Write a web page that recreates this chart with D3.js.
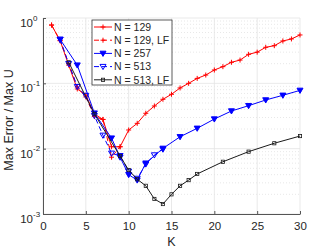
<!DOCTYPE html>
<html lang="en">
<head>
	<meta charset="utf-8">
	<title>Max Error vs K</title>
	<script src="https://d3js.org/d3.v7.min.js"></script>
	<style type="text/css">
		body { margin: 0; background: #fff; }
		text { font-family: "Liberation Sans", Arial, sans-serif; fill: #262626; }
	</style>
</head>
<body>
<script type="text/javascript">

	// Data
	var k129 = d3.range(1, 31);
	var v129 = [0.78, 0.45, 0.19, 0.082, 0.066, 0.034, 0.028, 0.0107, 0.0107, 0.0193,
				0.0244, 0.0348, 0.045, 0.057, 0.068, 0.085, 0.1, 0.119, 0.134, 0.16,
				0.18, 0.21, 0.227, 0.278, 0.3, 0.356, 0.377, 0.445, 0.478, 0.55];

	var k129lf = [1, 2, 3, 4, 5, 6, 7, 8, 9];
	var v129lf = [0.78, 0.45, 0.2, 0.088, 0.062, 0.031, 0.028, 0.0074, 0.0107];

	var k257 = [2, 4, 6, 8, 9, 10, 11, 12, 14, 16, 18, 20, 22, 24, 26, 28, 30];
	var v257 = [0.47, 0.19, 0.035, 0.0145, 0.0074, 0.004, 0.0033, 0.006, 0.0101, 0.0152,
				0.0205, 0.0284, 0.0377, 0.0455, 0.0556, 0.0656, 0.078];

	var k513 = [2, 3, 4, 5, 6, 7, 8, 9, 10, 11, 12, 13, 14];
	var v513 = [0.47, 0.2, 0.089, 0.065, 0.032, 0.016, 0.0085, 0.0078, 0.0045, 0.0035,
				0.0058, 0.008, 0.0098];

	var k513lf = [3, 6, 9, 10, 11, 12, 13, 14, 15, 16, 17, 18, 21, 24, 27, 30];
	var v513lf = [0.21, 0.034, 0.0077, 0.0047, 0.0034, 0.0027, 0.0017, 0.00142, 0.002, 0.0027,
				  0.0033, 0.0041, 0.0063, 0.009, 0.0121, 0.0156];

	var xTicks = [0, 5, 10, 15, 20, 25, 30];
	var yTicks = [1e-3, 1e-2, 1e-1, 1];
	var yExp = ["-3", "-2", "-1", "0"];

	var series = [
		{name: "N = 129",     k: k129,   v: v129,   color: "#ff0000", dash: null,  marker: "plus"},
		{name: "N = 129, LF", k: k129lf, v: v129lf, color: "#ff0000", dash: "5,3", marker: "plus"},
		{name: "N = 257",     k: k257,   v: v257,   color: "#0000ff", dash: null,  marker: "tri"},
		{name: "N = 513",     k: k513,   v: v513,   color: "#0000ff", dash: "5,3", marker: "triOpen"},
		{name: "N = 513, LF", k: k513lf, v: v513lf, color: "#1a1a1a", dash: null,  marker: "square"}
	];

	// Plot area
	var margin = {top: 18, right: 32, bottom: 35, left: 43};
	var width = 332, height = 249;
	var plotW = width - margin.left - margin.right;
	var plotH = height - margin.top - margin.bottom;

	var svg = d3.select("body")
				.append("svg")
				.attr("width", width)
				.attr("height", height);

	var g = svg.append("g")
			   .attr("transform", "translate(" + margin.left + "," + margin.top + ")");

	var xScale = d3.scaleLinear().domain([0, 30]).range([0, plotW]);
	var yScale = d3.scaleLog().domain([1e-3, 1]).range([plotH, 0]);

	// Minor grid (dotted)
	var minor = [];
	yTicks.slice(0, 3).forEach(function(t) {
		for (var m = 2; m <= 9; m++) minor.push(t * m);
	});
	g.selectAll(".minor")
		.data(minor)
		.enter().append("line")
		.attr("x1", 0).attr("x2", plotW)
		.attr("y1", function(d) { return yScale(d); })
		.attr("y2", function(d) { return yScale(d); })
		.attr("stroke", "#d9d9d9")
		.attr("stroke-width", 0.6)
		.attr("stroke-dasharray", "1,2");

	// Major grid
	g.selectAll(".gy")
		.data(yTicks)
		.enter().append("line")
		.attr("x1", 0).attr("x2", plotW)
		.attr("y1", function(d) { return yScale(d); })
		.attr("y2", function(d) { return yScale(d); })
		.attr("stroke", "#e3e3e3")
		.attr("stroke-width", 0.8);

	g.selectAll(".gx")
		.data(xTicks)
		.enter().append("line")
		.attr("x1", function(d) { return xScale(d); })
		.attr("x2", function(d) { return xScale(d); })
		.attr("y1", 0).attr("y2", plotH)
		.attr("stroke", "#e3e3e3")
		.attr("stroke-width", 0.8);

	// Axes (left, bottom), ticks point inward
	var xAxis = d3.axisBottom(xScale).tickValues(xTicks).tickSizeInner(-3).tickSizeOuter(0).tickPadding(8);
	var gx = g.append("g")
		.attr("transform", "translate(0," + plotH + ")")
		.call(xAxis);
	gx.selectAll("text").style("font-size", "11.5px").attr("fill", "#262626");

	var yAxis = d3.axisLeft(yScale).tickValues(yTicks).tickSizeInner(-3).tickSizeOuter(0).tickFormat("");
	var gy = g.append("g").call(yAxis);

	[gx, gy].forEach(function(a) {
		a.select(".domain").attr("stroke", "#555");
		a.selectAll(".tick line").attr("stroke", "#555");
	});

	// Y tick labels with superscripts
	gy.selectAll(".tick")
		.append("text")
		.attr("x", -10)
		.attr("y", 8.5)
		.attr("text-anchor", "end")
		.style("font-size", "11.5px")
		.attr("fill", "#262626")
		.text("10");
	gy.selectAll(".tick")
		.append("text")
		.attr("x", -10)
		.attr("y", 2)
		.attr("text-anchor", "start")
		.style("font-size", "8px")
		.attr("fill", "#262626")
		.text(function(d, i) { return yExp[i]; });

	// Axis titles
	svg.append("text")
		.attr("x", margin.left + plotW / 2)
		.attr("y", 246)
		.attr("text-anchor", "middle")
		.style("font-size", "12.5px")
		.text("K");

	svg.append("text")
		.attr("transform", "translate(13,120) rotate(-90)")
		.attr("text-anchor", "middle")
		.style("font-size", "12.5px")
		.text("Max Error / Max U");

	// Markers
	function drawMarker(sel, type, color) {
		if (type === "plus") {
			sel.append("path").attr("d", "M-2.5,0H2.5M0,-2.5V2.5")
				.attr("stroke", color).attr("stroke-width", 1).attr("fill", "none");
		} else if (type === "tri" || type === "triOpen") {
			sel.append("path").attr("d", "M-3,-2.2L3,-2.2L0,3Z")
				.attr("stroke", color).attr("stroke-width", 1)
				.attr("fill", type === "tri" ? color : "none");
		} else {
			sel.append("rect").attr("x", -1.6).attr("y", -1.6).attr("width", 3.2).attr("height", 3.2)
				.attr("stroke", color).attr("stroke-width", 0.8).attr("fill", "none");
		}
	}

	var line = d3.line()
				 .x(function(d) { return xScale(d[0]); })
				 .y(function(d) { return yScale(d[1]); });

	series.forEach(function(s) {
		var pts = s.k.map(function(k, i) { return [k, s.v[i]]; });
		g.append("path")
			.datum(pts)
			.attr("d", line)
			.attr("fill", "none")
			.attr("stroke", s.color)
			.attr("stroke-width", 1)
			.attr("stroke-dasharray", s.dash);
		g.selectAll(null)
			.data(pts)
			.enter().append("g")
			.attr("transform", function(d) { return "translate(" + xScale(d[0]) + "," + yScale(d[1]) + ")"; })
			.each(function() { drawMarker(d3.select(this), s.marker, s.color); });
	});

	// Legend
	var lg = svg.append("g").attr("transform", "translate(92,20)");
	lg.append("rect")
		.attr("width", 80).attr("height", 65)
		.attr("fill", "#fff")
		.attr("stroke", "#333")
		.attr("stroke-width", 0.8);

	series.forEach(function(s, i) {
		var y = 7 + i * 13.2;
		lg.append("line")
			.attr("x1", 2).attr("x2", 20)
			.attr("y1", y).attr("y2", y)
			.attr("stroke", s.color)
			.attr("stroke-width", 1)
			.attr("stroke-dasharray", s.dash);
		drawMarker(lg.append("g").attr("transform", "translate(11," + y + ")"), s.marker, s.color);
		lg.append("text")
			.attr("x", 22).attr("y", y + 3.7)
			.style("font-size", "10.5px")
			.text(s.name);
	});

</script>
</body>
</html>
